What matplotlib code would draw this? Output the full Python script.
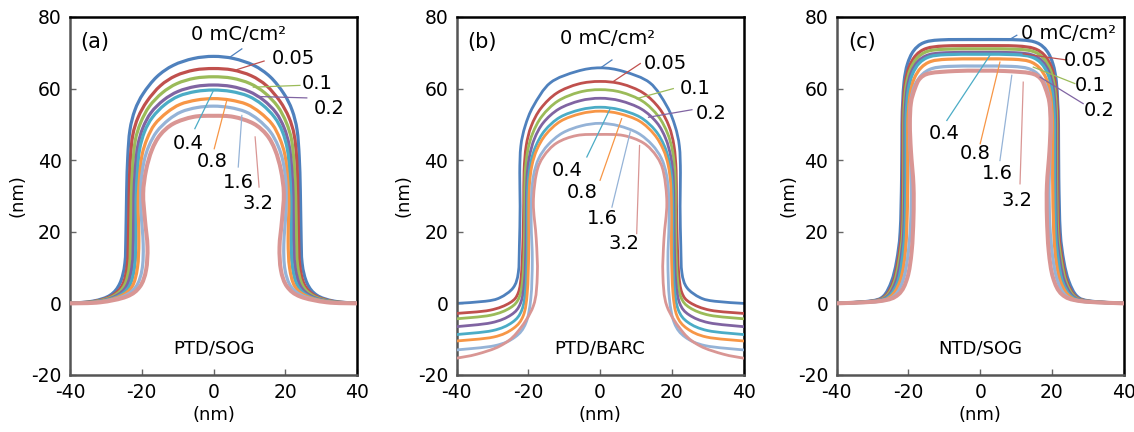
import matplotlib
matplotlib.use('Agg')
from matplotlib import pyplot as plt
from matplotlib.path import Path
from matplotlib.patches import PathPatch

plt.rcParams['font.family'] = ['DejaVu Sans']
plt.rcParams['axes.unicode_minus'] = False

doses = ['0 mC/cm²', '0.05', '0.1', '0.2', '0.4', '0.8', '1.6', '3.2']
colors = ['#4F81BD', '#C0504D', '#9BBB59', '#8064A2', '#4BACC6', '#F79646', '#95B3D7', '#D99694']
panel_tags = ['(a)', '(b)', '(c)']
stacks = ['PTD/SOG', 'PTD/BARC', 'NTD/SOG']

# left half of each profile (x <= 0), mirrored for the right half
a_x = [
    [-40, -33.5, -28.8, -26.1, -24.7, -24.4, -24.2, -23.9, -23.3, -21.9, -19.6, -15.8, -11.2, -5.6, 0],
    [-40, -33, -28.2, -25.3, -24, -23.7, -23.5, -23.2, -22.5, -21, -18.5, -14.8, -10.5, -5.3, 0],
    [-40, -32.8, -27.8, -24.8, -23.4, -23.1, -22.9, -22.5, -21.8, -20.3, -17.9, -14.3, -10.2, -5.2, 0],
    [-40, -32.5, -27.3, -24.2, -22.7, -22.3, -22.2, -21.8, -21.1, -19.7, -17.4, -13.9, -9.9, -5, 0],
    [-40, -32.3, -26.8, -23.5, -22, -21.6, -21.6, -21.2, -20.6, -19.2, -17, -13.6, -9.7, -4.9, 0],
    [-40, -32, -26.2, -22.7, -21.2, -20.8, -21, -20.6, -19.9, -18.5, -16.4, -13, -9.3, -4.7, 0],
    [-40, -31.8, -25.3, -21.6, -19.9, -19.6, -20.2, -20.2, -19.4, -18, -15.8, -12.5, -9, -4.6, 0],
    [-40, -31.6, -24.2, -20.5, -18.8, -18.4, -19.1, -19.6, -18.8, -17.2, -14.9, -11.2, -5.6, 0],
]
a_y = [
    [0, 0.65, 2.3, 5.6, 11.2, 19.5, 31.6, 40.9, 48.4, 54, 58.6, 63.3, 66.5, 68.4, 69],
    [0, 0.6, 2.2, 5.3, 11, 19.5, 31, 40, 47, 52, 56.5, 60.8, 63.6, 65.2, 65.6],
    [0, 0.55, 2.1, 5.1, 10.8, 19.3, 30, 38.5, 45.5, 50.5, 55, 58.8, 61.4, 62.9, 63.3],
    [0, 0.5, 2, 4.9, 10.5, 19, 29.5, 37.5, 44, 49, 53.3, 56.8, 59.2, 60.6, 61],
    [0, 0.5, 1.9, 4.8, 10.2, 18.5, 29, 37, 43, 48, 52, 55.5, 57.9, 59.2, 59.6],
    [0, 0.45, 1.9, 4.7, 10, 17.5, 28, 35.5, 41.5, 46, 50, 53.3, 55.6, 56.8, 57.2],
    [0, 0.4, 1.9, 4.7, 9.6, 16.5, 26, 33.5, 39.5, 44, 48, 51.3, 53.5, 54.7, 55.1],
    [0, 0.3, 1.9, 4.7, 9.3, 15.8, 23.3, 30.7, 37.2, 42.8, 47, 50.2, 52.1, 52.4],
]

b_x = [
    [-40, -32, -27.9, -24.2, -22.8, -22.5, -22.3, -22.4, -22.1, -20.9, -18.6, -13.9, -6.5, 0],
    [-40, -30.7, -25.1, -22.8, -21.9, -21.5, -21.3, -21.2, -20.6, -19.2, -16.5, -12, -6, 0],
    [-40, -30.5, -25, -22.5, -21.5, -21.1, -21, -20.9, -20.2, -18.8, -16.2, -11.8, -5.8, 0],
    [-40, -30.3, -24.8, -22.2, -21.1, -20.7, -20.6, -20.4, -19.7, -18.3, -15.8, -11.5, -5.6, 0],
    [-40, -30, -24.5, -21.8, -20.7, -20.3, -20.3, -20.1, -19.3, -17.9, -15.4, -11.2, -5.5, 0],
    [-40, -29.7, -24.2, -21.4, -20.3, -19.9, -19.9, -19.7, -19, -17.6, -15.1, -11, -5.4, 0],
    [-40, -29.3, -23.7, -20.7, -19.3, -18.9, -19.2, -19.1, -18.5, -17.1, -14.5, -10.5, -5.2, 0],
    [-40, -34.4, -27.9, -23.2, -18.6, -17.5, -17.8, -18.6, -17.7, -15.8, -12.1, -6.5, 0],
]
b_y = [
    [0, 0.6, 1.6, 4.4, 8.6, 16, 27.2, 36.5, 43.9, 49.5, 55.1, 61.6, 64.8, 65.8],
    [-2.8, -1.9, 0.2, 3, 8.6, 18, 28, 37, 44, 49.5, 54.5, 58.8, 61.3, 62],
    [-4.3, -3.3, -1.2, 1.8, 7.5, 17, 27, 36, 42.5, 47.5, 52.3, 56.5, 59, 59.7],
    [-6.5, -5.4, -3.2, 0, 6, 16, 26, 35, 41, 46, 50.5, 54.3, 56.6, 57.3],
    [-8.7, -7.6, -5.3, -1.8, 4.5, 15, 25, 33.5, 39.5, 44, 48.3, 52, 54.1, 54.8],
    [-10.5, -9.4, -7, -3.4, 3, 14, 24.5, 33, 38.5, 43, 47.2, 50.9, 53, 53.7],
    [-13, -11.8, -9.4, -5.5, 1.5, 12, 22, 30.5, 36, 40.5, 44.3, 47.6, 49.6, 50.3],
    [-15.3, -14.2, -11.9, -8.2, -0.7, 8, 18, 28, 36.5, 41, 44.8, 46.9, 47.2],
]

c_x = [
    [-40, -30.7, -27, -24.7, -23.3, -22.3, -21.9, -21.8, -21.6, -21.2, -20.3, -18.6, -15.8, -11, 0],
    [-40, -30.3, -26.5, -24.2, -22.9, -21.9, -21.6, -21.6, -21.4, -20.9, -19.8, -17.9, -15, -10, 0],
    [-40, -30, -26.2, -23.9, -22.6, -21.6, -21.3, -21.3, -21.1, -20.6, -19.5, -17.6, -14.7, -9.8, 0],
    [-40, -29.7, -25.8, -23.5, -22.2, -21.3, -21, -21, -20.8, -20.3, -19.2, -17.3, -14.4, -9.6, 0],
    [-40, -29.4, -25.4, -23, -21.8, -21, -20.7, -20.7, -20.5, -20, -18.9, -17, -14.1, -9.4, 0],
    [-40, -29, -25, -22.5, -21.2, -20.5, -20.2, -20.2, -20, -19.5, -18.4, -16.5, -13.7, -9.1, 0],
    [-40, -28.5, -23.9, -21.5, -20.2, -19.4, -19.2, -19.6, -19.7, -19.3, -18.2, -16.2, -13.4, -8.8, 0],
    [-40, -27.9, -22.8, -20.3, -19.1, -18.6, -18.6, -19.3, -19.6, -19.3, -18.2, -16.8, -14, -7, 0],
]
c_y = [
    [0, 0.65, 2, 6.2, 11.8, 20, 35, 50, 56, 62.1, 66.8, 70.5, 72.8, 73.6, 73.7],
    [0, 0.6, 2, 6, 11.8, 20, 35, 50, 56, 61.5, 66, 69.3, 71.2, 71.9, 72],
    [0, 0.6, 2, 6, 11.8, 20, 35, 50, 56, 61, 65.3, 68.5, 70.4, 71, 71.1],
    [0, 0.6, 2, 6, 11.8, 20, 35, 50, 55.5, 60.3, 64.5, 67.6, 69.4, 70, 70.1],
    [0, 0.6, 2, 6, 11.8, 20, 35, 50, 55, 59.8, 64, 67.1, 68.9, 69.5, 69.6],
    [0, 0.55, 1.9, 5.8, 11.5, 20, 35, 49, 54, 58.7, 62.8, 65.8, 67.6, 68.2, 68.3],
    [0, 0.55, 2.2, 6.5, 13, 22, 33, 45, 52, 57, 61, 63.9, 65.6, 66.2, 66.3],
    [0, 0.65, 2.5, 7.2, 14.6, 24, 33, 42.5, 50, 56, 60, 62.8, 64.3, 64.9, 65],
]

# label layout: text centre, then leader start (on curve) and leader end
label_text = [
    [(7, 75), (22.3, 68.4), (29, 61.4), (32.2, 54.4), (-7, 44.6), (-0.3, 39.5), (6.8, 33.9), (12.3, 27.9)],
    [(2, 73.9), (18.3, 67), (26.5, 60), (30.9, 53), (-9.3, 37.2), (-4.9, 31.1), (0.6, 23.7), (6.7, 16.7)],
    [(24.6, 75.3), (29.2, 67.9), (30.6, 60.9), (33.1, 53.9), (-10.1, 47.4), (-1.3, 41.8), (4.8, 36.2), (10.3, 28.8)],
]
leader = [
    [((4.6, 68.8), (7.9, 71.1)), ((6.5, 65.3), (14.1, 67.7)), ((11.1, 60.4), (24.1, 60.9)),
     ((12, 57.8), (26, 57.4)), ((0, 59.5), (-5.2, 48.8)), ((3.7, 56.7), (0.2, 43.2)),
     ((7.9, 52.5), (6.9, 38.1)), ((11.6, 46.5), (12.7, 32.5))],
    [((0, 65.7), (3.3, 68)), ((3.7, 62), (11.2, 67)), ((10.2, 57.2), (20.4, 60)),
     ((13.5, 52), (25.6, 54.1)), ((2.8, 54.4), (-3.7, 40.9)), ((6, 51.6), (0, 34.4)),
     ((8.4, 47.9), (3.3, 26.9)), ((11, 44.1), (10.2, 19.5))],
    [((7.8, 73.5), (10.2, 74.9)), ((12, 69.7), (24.1, 68)), ((14.8, 66), (26.4, 61.4)),
     ((16.7, 63.2), (28.7, 55.8)), ((2.7, 69.3), (-9.3, 51.1)), ((5.5, 67.4), (0, 44.6)),
     ((8.8, 63.7), (5.5, 39.9)), ((12, 61.8), (11.1, 33.4))],
]


def smooth_path(xs, ys):
    # spreadsheet-style smoothed line: Catmull-Rom handles as cubic Bezier
    pts = list(zip(xs, ys))
    verts = [pts[0]]
    codes = [Path.MOVETO]
    n = len(pts)
    for i in range(n - 1):
        p0 = pts[max(i - 1, 0)]
        p1 = pts[i]
        p2 = pts[i + 1]
        p3 = pts[min(i + 2, n - 1)]
        c1 = (p1[0] + (p2[0] - p0[0]) / 6, p1[1] + (p2[1] - p0[1]) / 6)
        c2 = (p2[0] - (p3[0] - p1[0]) / 6, p2[1] - (p3[1] - p1[1]) / 6)
        verts += [c1, c2, p2]
        codes += [Path.CURVE4] * 3
    return Path(verts, codes)


fig = plt.figure(figsize=(11.34, 4.32), dpi=100)
lefts = [70 / 1134, 456.6 / 1134, 836.7 / 1134]
ylabel_x = [-0.153, -0.152, -0.135]
panels = [(a_x, a_y), (b_x, b_y), (c_x, c_y)]

for p, (xs, ys) in enumerate(panels):
    ax = fig.add_axes([lefts[p], 1 - 375 / 432, 287 / 1134, 358 / 432])
    for i in range(len(doses)):
        hx, hy = xs[i], ys[i]
        fx = hx + [-v for v in hx[-2::-1]]
        fy = hy + hy[-2::-1]
        lw = 2.0 if p == 1 else 2.3
        if i == 7 and p != 1:
            lw = 2.9
        ax.add_patch(PathPatch(smooth_path(fx, fy), fill=False, edgecolor=colors[i],
                               lw=lw, joinstyle='round', capstyle='round', zorder=2 + i))
    for i in range(len(doses)):
        (x0, y0), (x1, y1) = leader[p][i]
        ax.plot([x0, x1], [y0, y1], color=colors[i], lw=0.9, zorder=20)
        tx, ty = label_text[p][i]
        ax.text(tx, ty, doses[i], fontsize=14, ha='center', va='center', zorder=21)
    ax.text(-33, 73, panel_tags[p], fontsize=15, ha='center', va='center')
    ax.text(0, -12.6, stacks[p], fontsize=13, ha='center', va='center')

    ax.set_xlim(-40, 40)
    ax.set_ylim(-20, 80)
    ax.set_xticks([-40, -20, 0, 20, 40])
    ax.set_yticks([-20, 0, 20, 40, 60, 80])
    ax.tick_params(direction='in', length=4, width=1, color='#666666',
                   labelsize=13.5, pad=6)
    for s in ['left', 'bottom']:
        ax.spines[s].set_color('#555555')
        ax.spines[s].set_linewidth(1.8)
    for s in ['top', 'right']:
        ax.spines[s].set_color('black')
        ax.spines[s].set_linewidth(1.8)
    ax.set_xlabel('(nm)', fontsize=13)
    ax.set_ylabel('(nm)', fontsize=13)
    ax.xaxis.set_label_coords(0.5, -0.087)
    ax.yaxis.set_label_coords(ylabel_x[p], 0.5)

fig.savefig('out.png', dpi=100)
